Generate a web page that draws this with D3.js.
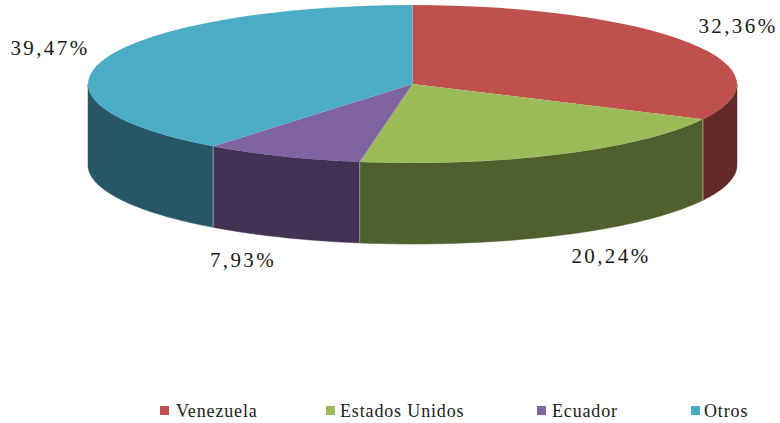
<!DOCTYPE html>
<html><head><meta charset="utf-8">
<script src="https://cdn.jsdelivr.net/npm/d3@7/dist/d3.min.js"></script>
<style>html,body{margin:0;padding:0;background:#fff}svg{display:block}text{font-family:"Liberation Serif",serif;fill:#1a1a1a}</style>
</head><body><svg id="c" width="780" height="423"></svg>
<script>
(function(){
const categories=["Venezuela","Estados Unidos","Ecuador","Otros"];
const values=[32.36,20.24,7.93,39.47];
const valueLabels=["32,36%","20,24%","7,93%","39,47%"];
const topColors=["#C0504D","#9BBB59","#8064A2","#4BACC6"];
const sideColors=["#632A28","#4F5F2D","#423253","#265765"];

const cx=412.5,cy=84,rx=324.5,ry=79,depth=81;
const svg=d3.select("#c");
const pie=d3.pie().sort(null).value(d=>d)(values);
const px=a=>cx+rx*Math.sin(a), py=a=>cy-ry*Math.cos(a);
const line=d3.line().x(d=>d[0]).y(d=>d[1]);

const walls=svg.append("g");
pie.forEach((s,i)=>{
  const a0=Math.max(s.startAngle,Math.PI/2),a1=Math.min(s.endAngle,Math.PI*1.5);
  if(a1<=a0)return;
  const steps=d3.range(0,61).map(k=>a0+(a1-a0)*k/60);
  const pts=steps.map(a=>[px(a),py(a)]).concat(steps.slice().reverse().map(a=>[px(a),py(a)+depth]));
  walls.append("path").attr("d",line(pts)+"Z").attr("fill",sideColors[i]).attr("stroke",sideColors[i]).attr("stroke-width",.5);
});
pie.forEach((s)=>{
  const a=s.endAngle;
  if(a>Math.PI/2&&a<Math.PI*1.5){
    walls.append("line").attr("x1",px(a)).attr("x2",px(a)).attr("y1",py(a)).attr("y2",py(a)+depth)
     .attr("stroke","#fff").attr("stroke-opacity",.45).attr("stroke-width",1);
  }
});
const arc=d3.arc().innerRadius(0).outerRadius(rx);
const face=svg.append("g").attr("transform",`translate(${cx},${cy}) scale(1,${ry/rx})`);
face.selectAll("path").data(pie).join("path").attr("d",arc).attr("fill",(d,i)=>topColors[i]);
const labelPos=[[738,33],[611,263],[243,267],[50,55]];
svg.append("g").selectAll("text").data(valueLabels).join("text")
  .attr("x",(d,i)=>labelPos[i][0]).attr("y",(d,i)=>labelPos[i][1]).attr("text-anchor","middle")
  .attr("font-size",21).attr("letter-spacing",2.4).text(d=>d);
const legX=[160,326,537,691],legTextX=[176,340,552,704],legY=411;
const leg=svg.append("g").selectAll("g").data(categories).join("g");
leg.append("rect").attr("x",(d,i)=>legX[i]).attr("y",legY-5).attr("width",9).attr("height",9).attr("fill",(d,i)=>topColors[i]);
leg.append("text").attr("x",(d,i)=>legTextX[i]).attr("y",legY+6).attr("font-size",18).attr("letter-spacing",0.85).text(d=>d);
})();
</script></body></html>
